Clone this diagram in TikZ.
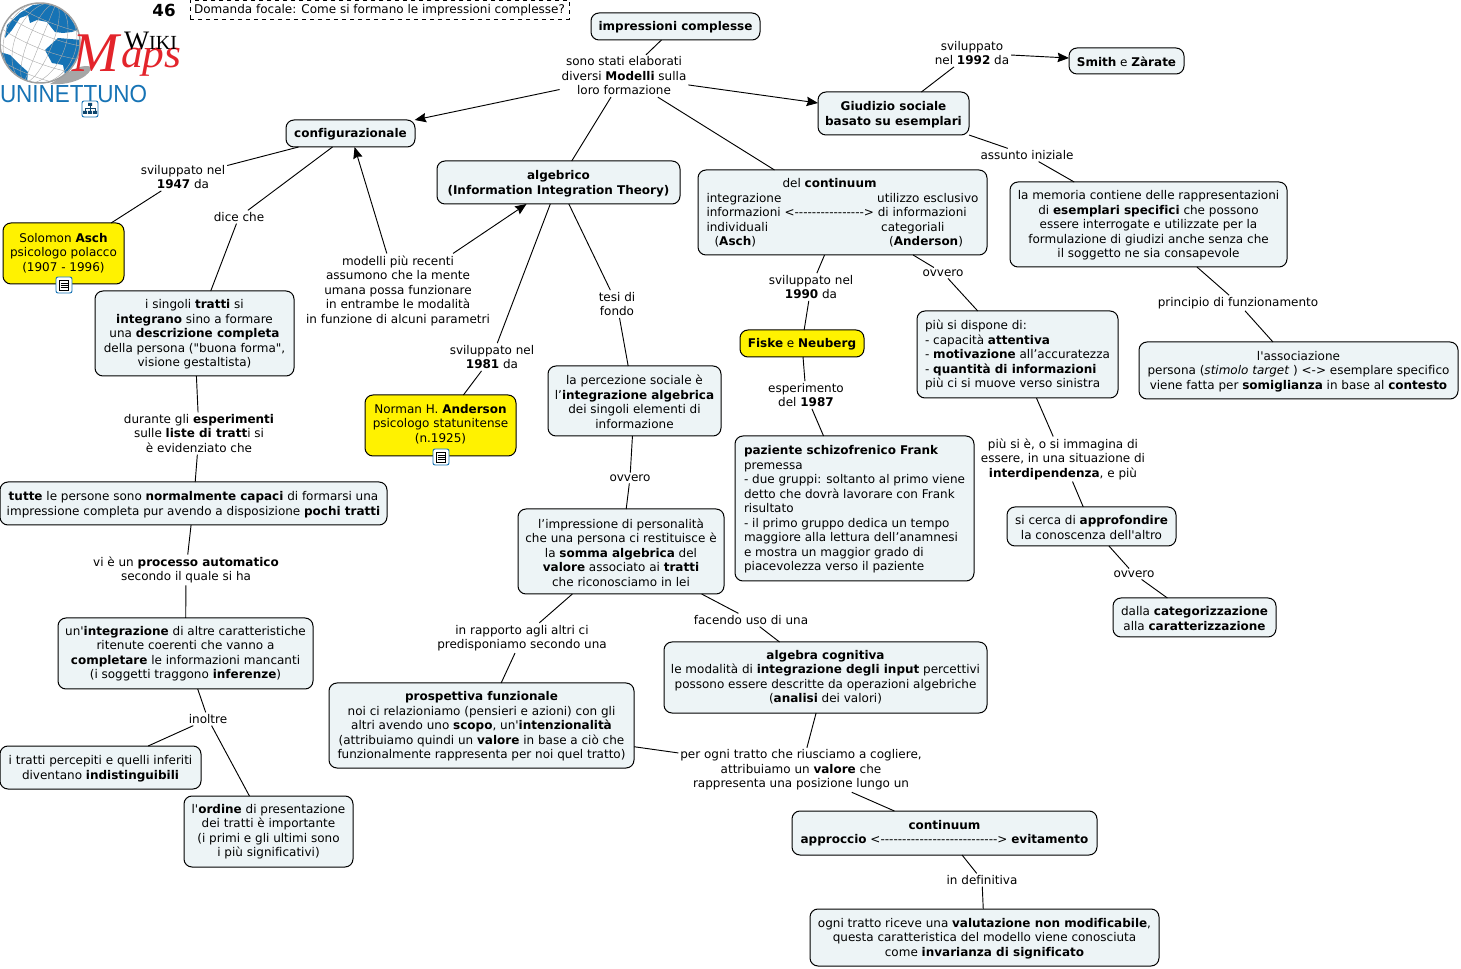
\documentclass[tikz,border=0pt]{standalone}
\usepackage{fontspec}
\usepackage{graphicx}
\setmainfont{DejaVu Sans}[Ligatures={TeXOff,CommonOff}]
\newfontfamily\serfam{Liberation Serif}
\newfontfamily\sanfam{Liberation Sans}
\usetikzlibrary{arrows.meta}
\definecolor{boxfill}{HTML}{EDF4F6}
\definecolor{logoblue}{HTML}{1673B5}
\definecolor{logored}{HTML}{E3242B}
\tikzset{
  x=0.75pt,y=-0.75pt,
  every node/.style={font=\fontsize{9}{10.875}\selectfont,inner sep=0pt,outer sep=0pt},
  concept/.style={draw=black,line width=0.75pt,rounded corners=6pt,fill=boxfill,align=center},
  person/.style={concept,fill=yellow},
  leftbox/.style={concept,align=left},
  linkname/.style={align=center,inner sep=1.5pt},
  conn/.style={draw=black,line width=0.7pt},
  arr/.style={conn,-{Stealth[length=8.5pt,width=7pt,inset=1pt]}},
  iconbox/.style={draw=logoblue,line width=0.7pt,rounded corners=1.5pt,fill=white,minimum width=12pt,minimum height=12pt},
}
\newcommand{\bxtop}{8.5}
\newcommand{\bxbot}{1.9}
\newcommand{\bx}[7][concept]{%
  \pgfmathsetmacro{\bxcx}{(#3+#5)/2}\pgfmathsetmacro{\bxcy}{(#4+#6)/2}%
  \pgfmathsetmacro{\bxw}{(#5-#3)*0.75}\pgfmathsetmacro{\bxh}{(#6-#4)*0.75}%
  \node[#1,minimum width=\bxw pt,minimum height=\bxh pt] (#2) at (\bxcx,\bxcy) {\rule{0pt}{\bxtop pt}#7\rule[-\bxbot pt]{0pt}{0pt}};}
\newcommand{\bxz}[7][concept]{\renewcommand{\bxtop}{7}\bx[#1]{#2}{#3}{#4}{#5}{#6}{#7}\renewcommand{\bxtop}{8.5}}
\newcommand{\bxu}[7][concept]{\renewcommand{\bxtop}{10.2}\bx[#1]{#2}{#3}{#4}{#5}{#6}{#7}\renewcommand{\bxtop}{8.5}}
\newcommand{\lb}[4]{\node[linkname] (#1) at (#2,#3) {#4};}
\newcommand{\lk}[2]{\draw[conn] (#1) -- (#2);}
\newcommand{\ak}[2]{\draw[arr] (#1) -- (#2);}
\begin{document}
\begin{tikzpicture}
\useasboundingbox (0,0) rectangle (1461,969);
\fill[white] (0,0) rectangle (1461,969);

% logo
\fill[gray!70] (60,78) .. controls (72,68) and (85,64) .. (91,67) .. controls (92,74) and (75,86) .. (50,84) -- cycle;
\begin{scope}
\clip (40,43) circle[radius=40];
\fill[white] (0,0) rectangle (82,85);
\fill[logoblue] (7,25) -- (20,13) -- (33,5) -- (50,3) -- (67,13) -- (78,30) -- (72,32) -- (63,33) -- (55,32) -- (47,22) -- (37,20) -- (30,23) -- (28,15) -- (20,18) -- (12,30) -- (5,38) -- cycle;
\fill[logoblue] (45,50) -- (58,38) -- (82,40) -- (78,60) -- (65,75) -- (63,65) -- (52,63) -- cycle;
\fill[logoblue] (0,52) -- (10,55) -- (18,63) -- (28,72) -- (27,83) -- (20,78) -- (8,68) -- cycle;
\begin{scope}[rotate around={-22:(40,43)}]
\foreach \r in {12,25,36}{\draw[gray!65,line width=0.3pt] (40,43) ellipse[x radius=\r,y radius=42];}
\draw[gray!65,line width=0.3pt] (40,0) -- (40,86);
\foreach \h in {-28,-14,0,14,28}{\draw[gray!65,line width=0.3pt] (-5,43+\h) .. controls (20,50+\h) and (60,50+\h) .. (85,43+\h);}
\end{scope}
\end{scope}
\draw[gray!75,line width=1.1pt] (40,43) circle[radius=40];
\node[text=logored,anchor=base west] (logom) at (72,72) {\fontsize{42}{42}\selectfont\itshape\serfam M};
\node[text=logored,anchor=base west] (logoaps) at (121,68) {\scalebox{1.05}[1]{\fontsize{31}{31}\selectfont\itshape\serfam aps}};
\node[anchor=base west] (logowiki) at (124,50) {\serfam\fontsize{20}{20}\selectfont W\fontsize{15}{15}\selectfont IKI};
\node[text=logoblue,anchor=base west] (logouni) at (0,103) {\scalebox{0.91}[1]{\sanfam\fontsize{18.5}{19}\selectfont UNINETTUNO}};
\node[iconbox] (iconlogo) at (90,109) {};
\draw[logoblue!60!black,line width=0.5pt] (90,104) -- (90,108) (85,112) -- (85,108) -- (95,108) -- (95,112) (90,108) -- (90,112);
\fill[logoblue!60!black] (88,103) rectangle (92,106) (83,111) rectangle (87,114) (88,111) rectangle (92,114) (93,111) rectangle (97,114);

\node (num) at (164,10) {\fontsize{12.5}{14}\selectfont\bfseries 46};
\bx[draw=black,dashed,line width=0.6pt,align=center]{focus}{190}{0}{569}{19}{Domanda focale: Come si formano le impressioni complesse?}

% concepts
\bx{imp}{591}{13}{760}{40}{\textbf{impressioni complesse}}
\bx{giud}{818}{92}{969}{135}{\textbf{Giudizio sociale}\\\textbf{basato su esemplari}}
\bxu{smith}{1069}{48}{1184}{74}{\textbf{Smith} e \textbf{Zàrate}}
\bx{config}{286}{120}{415}{147}{\textbf{configurazionale}}
\bx{alg}{437}{161}{680}{204}{\textbf{algebrico}\\\textbf{(Information Integration Theory)}}
\bx[leftbox]{cont}{698}{170}{987}{255}{\hspace*{57pt}del \textbf{continuum}\\\makebox[128pt][l]{integrazione}utilizzo esclusivo\\informazioni <-{}-{}-{}-{}-{}-{}-{}-{}-{}-{}-{}-{}-{}-{}-{}-{}> di informazioni\\\makebox[131pt][l]{individuali}categoriali\\\makebox[137pt][l]{\hspace*{6pt}(\textbf{Asch})}(\textbf{Anderson})}
\bxz[person]{asch}{3}{223}{124}{284}{Solomon \textbf{Asch}\\psicologo polacco\\(1907 - 1996)}
\bx{sing}{95}{291}{294}{376}{i singoli \textbf{tratti} si\\\textbf{integrano} sino a formare\\una \textbf{descrizione completa}\\della persona ("buona forma",\\visione gestaltista)}
\bx{mem}{1010}{182}{1287}{267}{la memoria contiene delle rappresentazioni\\di \textbf{esemplari specifici} che possono\\essere interrogate e utilizzate per la\\formulazione di giudizi anche senza che\\il soggetto ne sia consapevole}
\bx[person]{fiske}{740}{330}{864}{357}{\textbf{Fiske} e \textbf{Neuberg}}
\bx[leftbox]{disp}{917}{311}{1118}{398}{più si dispone di:\\- capacità \textbf{attentiva}\\- \textbf{motivazione} all’accuratezza\\- \textbf{quantità di informazioni}\\più ci si muove verso sinistra}
\bx{assoc}{1139}{342}{1458}{399}{l'associazione\\persona (\textit{stimolo target} ) <-> esemplare specifico\\viene fatta per \textbf{somiglianza} in base al \textbf{contesto}}
\renewcommand{\bxbot}{3.4}
\bxz[person]{anders}{365}{395}{516}{456}{Norman H. \textbf{Anderson}\\psicologo statunitense\\(n.1925)}
\renewcommand{\bxbot}{1.9}
\bxu{perc}{548}{366}{721}{436}{la percezione sociale è\\l’\textbf{integrazione algebrica}\\dei singoli elementi di\\informazione}
\bx[leftbox]{paz}{735}{436}{974}{581}{\textbf{paziente schizofrenico Frank}\\premessa\\- due gruppi: soltanto al primo viene\\detto che dovrà lavorare con Frank\\risultato\\- il primo gruppo dedica un tempo\\maggiore alla lettura dell’anamnesi\\e mostra un maggior grado di\\piacevolezza verso il paziente}
\bx{tutte}{0}{482}{387}{525}{\textbf{tutte} le persone sono \textbf{normalmente capaci} di formarsi una\\impressione completa pur avendo a disposizione \textbf{pochi tratti}}
\bxu{pers}{518}{509}{724}{594}{l’impressione di personalità\\che una persona ci restituisce è\\la \textbf{somma algebrica} del\\\textbf{valore} associato ai \textbf{tratti}\\che riconosciamo in lei}
\bxu{cerca}{1007}{507}{1176}{546}{si cerca di \textbf{approfondire}\\la conoscenza dell'altro}
\bxu{categ}{1113}{598}{1276}{637}{dalla \textbf{categorizzazione}\\alla \textbf{caratterizzazione}}
\bxz{integ}{58}{618}{313}{689}{un'\textbf{integrazione} di altre caratteristiche\\ritenute coerenti che vanno a\\\textbf{completare} le informazioni mancanti\\(i soggetti traggono \textbf{inferenze})}
\bxz{algc}{664}{642}{987}{713}{\textbf{algebra cognitiva}\\le modalità di \textbf{integrazione degli input} percettivi\\possono essere descritte da operazioni algebriche\\(\textbf{analisi} dei valori)}
\bx{prosp}{329}{683}{634}{768}{\textbf{prospettiva funzionale}\\noi ci relazioniamo (pensieri e azioni) con gli\\altri avendo uno \textbf{scopo}, un'\textbf{intenzionalità}\\(attribuiamo quindi un \textbf{valore} in base a ciò che\\funzionalmente rappresenta per noi quel tratto)}
\bx{itrat}{0}{746}{201}{789}{i tratti percepiti e quelli inferiti\\diventano \textbf{indistinguibili}}
\bxz{ordine}{184}{796}{353}{867}{l'\textbf{ordine} di presentazione\\dei tratti è importante\\(i primi e gli ultimi sono\\i più significativi)}
\bxz{contb}{792}{811}{1097}{855}{\textbf{continuum}\\\textbf{approccio} <-{}-{}-{}-{}-{}-{}-{}-{}-{}-{}-{}-{}-{}-{}-{}-{}-{}-{}-{}-{}-{}-{}-{}-{}-{}-{}-> \textbf{evitamento}}
\bx{ogni}{810}{909}{1159}{966}{ogni tratto riceve una \textbf{valutazione non modificabile},\\questa caratteristica del modello viene conosciuta\\come \textbf{invarianza di significato}}

% icons
\node[iconbox] (iconasch) at (64,285) {};
\draw[black,line width=0.6pt] (59.5,280.5) rectangle (68.5,290) (60.5,283) -- (67.5,283) (60.5,285) -- (67.5,285) (60.5,287) -- (67.5,287);
\node[iconbox] (iconand) at (441,457) {};
\draw[black,line width=0.6pt] (436.5,452.5) rectangle (445.5,462) (437.5,455) -- (444.5,455) (437.5,457) -- (444.5,457) (437.5,459) -- (444.5,459);

% link labels
\lb{sono}{624}{76}{sono stati elaborati\\diversi \textbf{Modelli} sulla\\loro formazione}
\lb{sv92}{972}{53}{sviluppato\\nel \textbf{1992} da}
\lb{assunto}{1027}{155}{assunto iniziale}
\lb{sv47}{183}{177}{sviluppato nel\\\textbf{1947} da}
\lb{dice}{239}{217}{dice che}
\lb{modelli}{398}{290.5}{modelli più recenti\\assumono che la mente\\umana possa funzionare\\in entrambe le modalità\\in funzione di alcuni parametri}
\lb{sv81}{492}{357}{sviluppato nel\\\textbf{1981} da}
\lb{tesi}{617}{304}{tesi di\\fondo}
\lb{sv90}{811}{287}{sviluppato nel\\\textbf{1990} da}
\lb{ovv1}{943}{273}{ovvero}
\lb{princ}{1238}{303}{principio di funzionamento}
\lb{esper}{806}{395}{esperimento\\del \textbf{1987}}
\lb{durante}{199}{433.5}{durante gli \textbf{esperimenti}\\sulle \textbf{liste di tratt}i si\\è evidenziato che}
\lb{ovv2}{630}{478}{ovvero}
\lb{piue}{1063}{459}{più si è, o si immagina di\\essere, in una situazione di\\\textbf{interdipendenza}, e più}
\lb{ovv3}{1134}{574}{ovvero}
\lb{vie}{186}{570}{vi è un \textbf{processo automatico}\\secondo il quale si ha}
\lb{rapp}{522}{638}{in rapporto agli altri ci\\predisponiamo secondo una}
\lb{facendo}{751}{620}{facendo uso di una}
\lb{inoltre}{208}{719}{inoltre}
\lb{perogni}{801}{770}{per ogni tratto che riusciamo a cogliere,\\attribuiamo un \textbf{valore} che\\rappresenta una posizione lungo un}
\lb{indef}{982}{880}{in definitiva}

% connectors
\lk{imp}{sono}
\ak{sono}{config}
\ak{sono}{giud}
\lk{sono}{alg}
\lk{sono}{cont.148}
\lk{giud}{sv92}
\ak{sv92}{smith}
\lk{giud.south east}{assunto}
\lk{assunto}{mem}
\lk{mem}{princ}
\lk{princ}{assoc}
\lk{cont}{sv90}
\lk{sv90}{fiske}
\lk{fiske}{esper}
\lk{esper}{paz}
\lk{cont}{ovv1}
\lk{ovv1}{disp}
\lk{disp}{piue}
\lk{piue}{cerca}
\lk{cerca}{ovv3}
\lk{ovv3}{categ}
\lk{config}{sv47}
\lk{sv47}{asch}
\lk{config}{dice}
\lk{dice}{sing}
\ak{modelli}{config}
\ak{modelli}{alg}
\lk{alg}{sv81}
\lk{sv81}{anders}
\lk{alg}{tesi}
\lk{tesi}{perc}
\lk{perc}{ovv2}
\lk{ovv2}{pers}
\lk{pers}{rapp}
\lk{rapp}{prosp}
\lk{pers}{facendo}
\lk{facendo}{algc}
\lk{sing}{durante}
\lk{durante}{tutte}
\lk{tutte}{vie}
\lk{vie}{integ}
\lk{integ}{inoltre}
\lk{inoltre}{itrat}
\lk{inoltre}{ordine}
\lk{prosp}{perogni}
\lk{algc}{perogni}
\lk{perogni}{contb}
\lk{contb}{indef}
\lk{indef}{ogni}
\end{tikzpicture}
\end{document}
